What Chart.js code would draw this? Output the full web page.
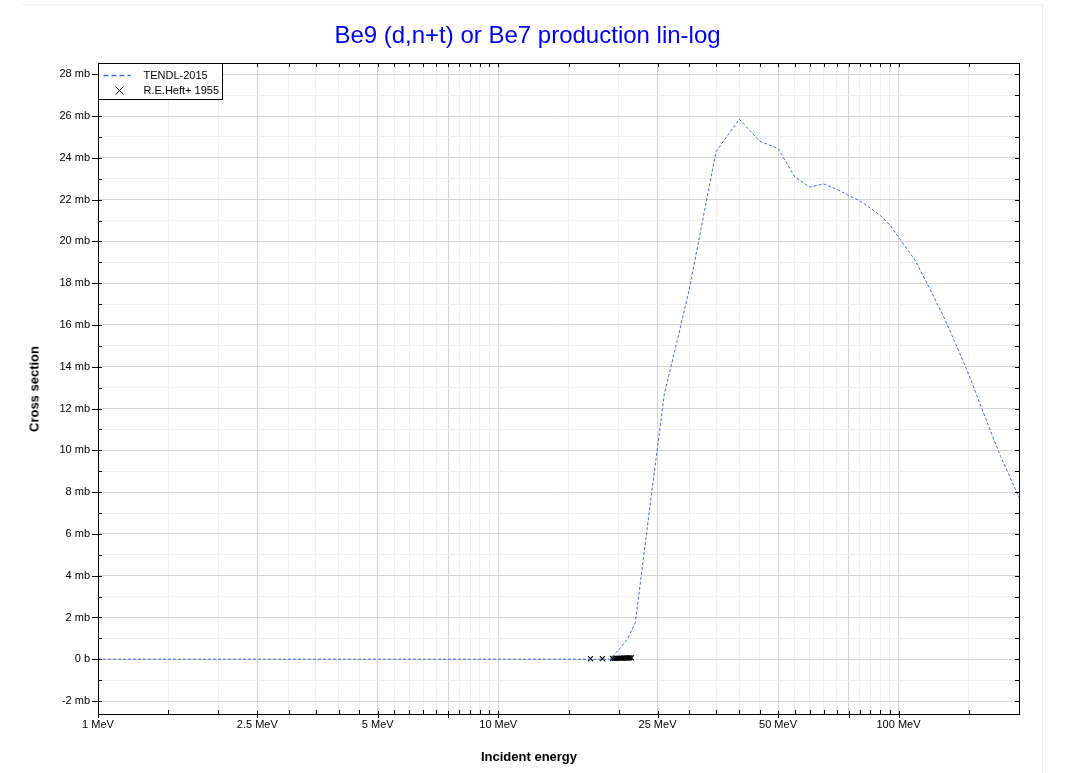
<!DOCTYPE html>
<html>
<head>
<meta charset="utf-8">
<script src="https://cdn.jsdelivr.net/npm/chart.js@4/dist/chart.umd.min.js"></script>
<style>
  html, body { margin: 0; padding: 0; background: #fff; }
  #wrap { position: relative; width: 1067px; height: 773px; overflow: hidden; font-family: "Liberation Sans", Arial, sans-serif; }
  #box { position: absolute; left: 22px; top: 4px; width: 1020px; height: 800px; border-top: 1px solid #f0f0f0; border-right: 1px solid #ececec; }
  canvas { position: absolute; left: 0; top: 0; }
  .title { position: absolute; left: 0; width: 1055px; top: 21px; text-align: center; font-size: 24px; color: #0000ee; }
  .xtitle { position: absolute; left: 0; width: 1058px; top: 749px; text-align: center; font-size: 13px; font-weight: bold; color: #000; }
  .ytitle { position: absolute; left: 34px; top: 389px; transform: translate(-50%, -50%) rotate(-90deg); font-size: 13px; font-weight: bold; color: #000; white-space: nowrap; }
</style>
</head>
<body>
<div id="wrap">
  <div id="box"></div>
  <canvas id="chart" width="1067" height="773"></canvas>
  <div class="title">Be9 (d,n+t) or Be7 production lin-log</div>
  <div class="xtitle">Incident energy</div>
  <div class="ytitle">Cross section</div>
</div>
<script>
// TENDL-2015 evaluation, energy in MeV, cross section in mb
const tendlEnergy = [1, 19, 20, 21, 22, 24, 26, 28, 30, 35, 40, 45, 50, 55, 60, 65, 70, 75, 80, 85, 90, 95, 100, 110, 120, 130, 140, 150, 160, 170, 180, 190, 200];
const tendlXs = [0, 0, 0.45, 0.95, 1.75, 7.5, 12.7, 15.25, 17.7, 24.3, 25.85, 24.8, 24.45, 23.1, 22.6, 22.75, 22.5, 22.2, 21.95, 21.6, 21.25, 20.8, 20.2, 19.1, 17.7, 16.35, 14.95, 13.6, 12.2, 10.9, 9.7, 8.7, 7.75];

// R.E.Heft+ 1955 measurements
const heftEnergy = [17.0, 18.2, 19.3, 19.5, 19.7, 19.9, 20.1, 20.3, 20.5, 20.7, 20.9, 21.1, 21.3, 21.5];
const heftXs = [0.03, 0.03, 0.04, 0.04, 0.04, 0.05, 0.05, 0.05, 0.05, 0.06, 0.06, 0.06, 0.07, 0.07];

// axes
const xTicks = [1, 1.5, 2, 2.5, 3, 3.5, 4, 4.5, 5, 5.5, 6, 6.5, 7, 7.5, 8, 8.5, 9, 9.5, 10,
  15, 20, 25, 30, 35, 40, 45, 50, 55, 60, 65, 70, 75, 80, 85, 90, 95, 100, 150, 200];
const xMajor = [1, 2.5, 5, 7.5, 10, 25, 50, 75, 100];
const xLabelValues = [1, 2.5, 5, 10, 25, 50, 100];
const xLabels = ['1 MeV', '2.5 MeV', '5 MeV', '10 MeV', '25 MeV', '50 MeV', '100 MeV'];
const yTicks = [-2, -1, 0, 1, 2, 3, 4, 5, 6, 7, 8, 9, 10, 11, 12, 13, 14, 15, 16, 17, 18, 19, 20, 21, 22, 23, 24, 25, 26, 27, 28];
const yLabelValues = [-2, 0, 2, 4, 6, 8, 10, 12, 14, 16, 18, 20, 22, 24, 26, 28];
const yLabels = ['-2 mb', '0 b', '2 mb', '4 mb', '6 mb', '8 mb', '10 mb', '12 mb', '14 mb', '16 mb', '18 mb', '20 mb', '22 mb', '24 mb', '26 mb', '28 mb'];

const lineColor = '#4169e1';
const font = { family: '"Liberation Sans", Arial, sans-serif', size: 11 };

const framePlugin = {
    id: 'frame',
    afterDraw(chart) {
        const { ctx, chartArea: a, scales: { x, y } } = chart;
        ctx.save();
        ctx.strokeStyle = '#000';
        ctx.lineWidth = 1;
        ctx.beginPath();
        x.ticks.forEach(t => {
            const px = Math.round(x.getPixelForValue(t.value)) + 0.5;
            if (xMajor.includes(t.value)) {
                ctx.moveTo(px, a.bottom - 3); ctx.lineTo(px, a.bottom + 4);
            } else {
                ctx.moveTo(px, a.bottom - 4); ctx.lineTo(px, a.bottom);
            }
            ctx.moveTo(px, a.top); ctx.lineTo(px, a.top + 4);
        });
        y.ticks.forEach(t => {
            const py = Math.round(y.getPixelForValue(t.value)) + 0.5;
            if (t.value % 2 === 0) {
                ctx.moveTo(a.left - 6, py); ctx.lineTo(a.left + 4, py);
            } else {
                ctx.moveTo(a.left, py); ctx.lineTo(a.left + 4, py);
            }
            ctx.moveTo(a.right - 4, py); ctx.lineTo(a.right, py);
        });
        ctx.stroke();

        // legend
        const lx = Math.round(a.left) + 0.5, ly = Math.round(a.top) + 0.5;
        ctx.fillStyle = '#fff';
        ctx.fillRect(lx, ly, 124, 36);
        ctx.strokeRect(lx, ly, 124, 36);
        ctx.strokeStyle = lineColor;
        ctx.lineWidth = 1.5;
        ctx.setLineDash([5, 3]);
        ctx.beginPath();
        ctx.moveTo(lx + 5, ly + 12); ctx.lineTo(lx + 32, ly + 12);
        ctx.stroke();
        ctx.setLineDash([]);
        ctx.strokeStyle = '#000';
        ctx.lineWidth = 1;
        const mx = lx + 21, my = ly + 27;
        ctx.beginPath();
        ctx.moveTo(mx - 4, my - 4); ctx.lineTo(mx + 4, my + 4);
        ctx.moveTo(mx + 4, my - 4); ctx.lineTo(mx - 4, my + 4);
        ctx.stroke();
        ctx.fillStyle = '#000';
        ctx.font = '11px "Liberation Sans", Arial, sans-serif';
        ctx.textBaseline = 'middle';
        ctx.fillText('TENDL-2015', lx + 45, ly + 12);
        ctx.fillText('R.E.Heft+ 1955', lx + 45, ly + 27);
        ctx.restore();

        ctx.save();
        ctx.strokeStyle = '#000';
        ctx.lineWidth = 1;
        ctx.strokeRect(Math.round(a.left) + 0.5, Math.round(a.top) + 0.5, Math.round(a.right - a.left), Math.round(a.bottom - a.top));
        ctx.restore();
    }
};

new Chart(document.getElementById('chart'), {
    type: 'scatter',
    data: {
        datasets: [
            {
                label: 'TENDL-2015',
                data: tendlEnergy.map((e, i) => ({ x: e, y: tendlXs[i] })),
                showLine: true,
                borderColor: lineColor,
                borderWidth: 1,
                borderDash: [3, 2],
                pointRadius: 0,
                tension: 0
            },
            {
                label: 'R.E.Heft+ 1955',
                data: heftEnergy.map((e, i) => ({ x: e, y: heftXs[i] })),
                showLine: false,
                pointStyle: 'crossRot',
                pointRadius: 3.5,
                borderColor: '#000',
                borderWidth: 1.2
            }
        ]
    },
    options: {
        responsive: false,
        animation: false,
        layout: { padding: { left: 20, top: 63, right: 48, bottom: 0 } },
        plugins: {
            legend: { display: false },
            title: { display: false },
            tooltip: { enabled: false }
        },
        scales: {
            x: {
                type: 'logarithmic',
                min: 1,
                max: 200,
                afterBuildTicks: s => { s.ticks = xTicks.map(v => ({ value: v })); },
                afterFit: s => { s.height = 59; },
                border: { display: false },
                grid: {
                    drawTicks: false,
                    color: c => xMajor.includes(c.tick.value) ? '#d4d4d4' : '#efefef',
                    lineWidth: 1
                },
                ticks: {
                    autoSkip: false,
                    maxRotation: 0,
                    padding: 4,
                    color: '#000',
                    font: font,
                    callback: v => {
                        const k = xLabelValues.indexOf(v);
                        return k >= 0 ? xLabels[k] : '';
                    }
                }
            },
            y: {
                type: 'linear',
                min: -2.62,
                max: 28.54,
                afterBuildTicks: s => { s.ticks = yTicks.map(v => ({ value: v })); },
                afterFit: s => { s.width = 78; },
                border: { display: false },
                grid: {
                    drawTicks: false,
                    color: c => (c.tick && c.tick.value % 2 === 0) ? '#d4d4d4' : '#efefef',
                    lineWidth: 1
                },
                ticks: {
                    padding: 8,
                    color: '#000',
                    font: font,
                    callback: v => {
                        const k = yLabelValues.indexOf(v);
                        return k >= 0 ? yLabels[k] : '';
                    }
                }
            }
        }
    },
    plugins: [framePlugin]
});
</script>
</body>
</html>
